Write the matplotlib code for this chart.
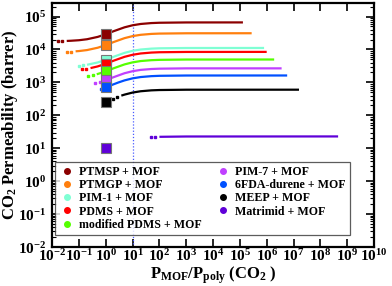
import matplotlib
matplotlib.use("Agg")
import matplotlib.pyplot as plt
from matplotlib.ticker import LogLocator, NullLocator

plt.rcParams['font.family'] = ['Liberation Serif', 'DejaVu Serif']
plt.rcParams['font.weight'] = 'bold'
plt.rcParams['mathtext.fontset'] = 'custom'
plt.rcParams['mathtext.rm'] = 'Liberation Serif:bold'
plt.rcParams['mathtext.it'] = 'Liberation Serif:bold'
plt.rcParams['mathtext.bf'] = 'Liberation Serif:bold'

# polymer permeability (square markers at ratio = 1)
names = ['PTMSP + MOF', 'PTMGP + MOF', 'PIM-1 + MOF', 'PDMS + MOF',
         'modified PDMS + MOF', 'PIM-7 + MOF', '6FDA-durene + MOF',
         'MEEP + MOF', 'Matrimid + MOF']
colors = ['#8b0000', '#ff7f0e', '#7fffd4', '#ff0000', '#55ff00',
          '#c040ff', '#0050ff', '#000000', '#5f00d8']
p_poly = [29000, 13600, 4860, 3690, 2170, 1170, 710, 263, 10]

# two isolated leading dots of each curve
dot_x = [[0.0166, 0.024], [0.035, 0.05], [0.099, 0.14], [0.13, 0.19],
         [0.22, 0.32], [0.41, 0.6], [0.68, 0.98], [1.8, 2.6], [48, 70]]
dot_y = [[17900, 18000], [8510, 8620], [3200, 3290], [2480, 2580],
         [1550, 1640], [930, 1015], [636, 706], [316, 355], [21.8, 22.0]]

# continuous part of each curve
line_x = [
    [0.035, 0.05, 0.1, 0.2, 0.5, 1, 2, 5, 10, 20, 50, 100, 1000, 1.3e5],
    [0.075, 0.1, 0.2, 0.5, 1, 2, 5, 10, 20, 50, 100, 1000, 2.75e5],
    [0.2, 0.5, 1, 2, 5, 10, 20, 50, 100, 1000, 8e5],
    [0.27, 0.5, 1, 2, 5, 10, 20, 50, 100, 1000, 1e6],
    [0.46, 0.7, 1, 2, 5, 10, 20, 50, 100, 1000, 1.9e6],
    [0.86, 1, 2, 5, 10, 20, 50, 100, 1000, 3.6e6],
    [1.4, 2, 3, 5, 10, 20, 50, 100, 1000, 5.8e6],
    [3.8, 5, 10, 20, 50, 100, 1000, 1.6e7],
    [100, 1000, 4.6e8],
]
line_y = [
    [18150, 18390, 19080, 20450, 24070, 29000, 36050, 47010, 54260, 59420, 63280, 64730, 66120, 66290],
    [8790, 8950, 9590, 11290, 13600, 16900, 22050, 25450, 27870, 29680, 30360, 31010, 31090],
    [3430, 4030, 4860, 6040, 7880, 9090, 9960, 10600, 10850, 11080, 11110],
    [2720, 3060, 3690, 4590, 5980, 6900, 7560, 8050, 8240, 8410, 8440],
    [1770, 1960, 2170, 2700, 3520, 4060, 4450, 4730, 4840, 4950, 4960],
    [1120, 1170, 1450, 1900, 2190, 2400, 2550, 2610, 2670, 2670],
    [788, 883, 1000, 1151, 1328, 1455, 1549, 1585, 1619, 1623],
    [397, 426, 492, 539, 574, 587, 600, 601],
    [22.3, 22.8, 22.9],
]

x_ticks = [10.0 ** k for k in range(-2, 11)]
y_ticks = [10.0 ** k for k in range(-2, 6)]

fig = plt.figure(figsize=(3.92, 2.86), dpi=100)
ax = fig.add_axes([0.133, 0.136, 0.821, 0.854])

for i in range(len(names)):
    ax.plot(line_x[i], line_y[i], color=colors[i], lw=1.6, solid_capstyle='butt', zorder=3)
    ax.plot(dot_x[i], dot_y[i], ls='none', marker='s', ms=1.6, color=colors[i], zorder=3)
    ax.plot([1], [p_poly[i]], ls='none', marker='s', ms=6.5, mfc=colors[i],
            mec='#777777', mew=0.8, zorder=4)
    ax.plot([], [], ls='none', marker='o', ms=4, color=colors[i], label=names[i])

ax.axvline(10, color='#4a5cff', ls=(0, (1, 1.5)), lw=0.9, zorder=2)

ax.set_xscale('log')
ax.set_yscale('log')
ax.set_xlim(1e-2, 1e10)
ax.set_ylim(1e-2, 2.6e5)
ax.set_xticks(x_ticks)
ax.set_yticks(y_ticks)
ax.xaxis.set_minor_locator(NullLocator())
ax.yaxis.set_minor_locator(LogLocator(base=10, subs=range(2, 10), numticks=20))

ax.tick_params(which='both', direction='in', top=True, right=True)
ax.tick_params(which='major', length=6, width=1.2, labelsize=11)
ax.tick_params(axis='x', which='major', pad=1)
ax.tick_params(axis='y', which='major', pad=4)
ax.tick_params(which='minor', length=3, width=0.8)
for s in ax.spines.values():
    s.set_linewidth(1.6)

ax.set_xlabel(r'P$_{\rm MOF}$/P$_{\rm poly}$ (CO$_2$ )', fontsize=12, fontweight='bold', labelpad=0)
ax.set_ylabel(r'CO$_2$ Permeability (barrer)', fontsize=12, fontweight='bold', labelpad=-1)

leg = ax.legend(loc='lower left', bbox_to_anchor=(0.01, 0.05), ncol=2,
                fontsize=8.6, frameon=True, fancybox=False, edgecolor='#333333',
                handletextpad=0.4, columnspacing=1.2, labelspacing=0.1,
                borderpad=0.35, handlelength=1.2, borderaxespad=0)
leg.get_frame().set_linewidth(0.9)

fig.savefig('out.png', dpi=100)
